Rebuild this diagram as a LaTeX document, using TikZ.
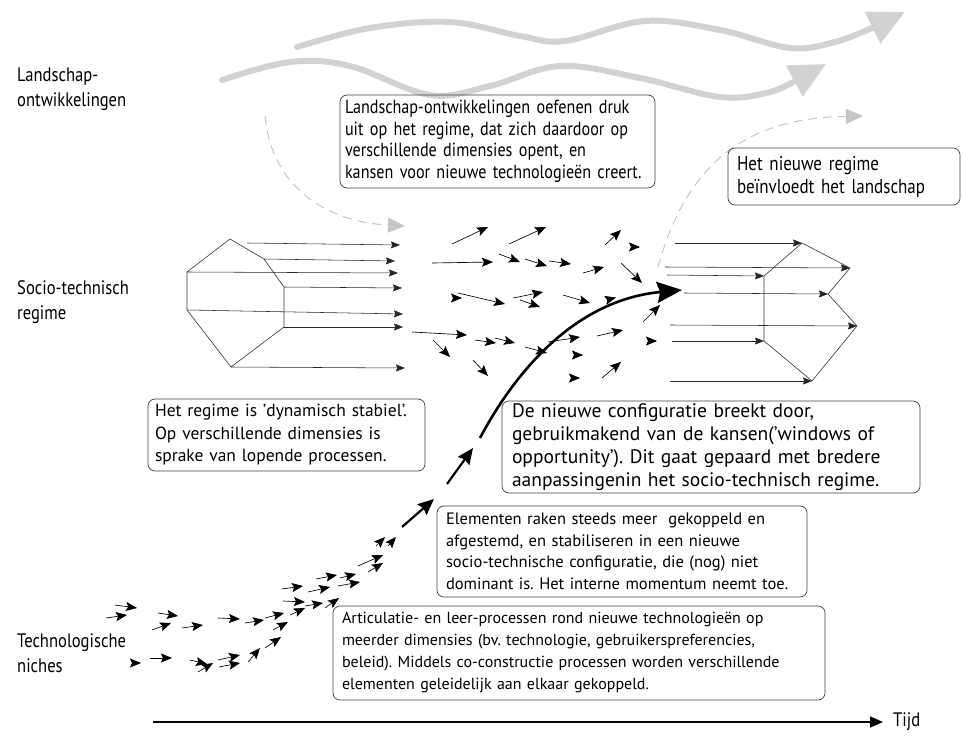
\documentclass[tikz,border=0pt]{standalone}
\usepackage{fontspec}
\setmainfont{PT Sans}
\newfontfamily\cf{PT Sans}[FakeStretch=0.85]
\usetikzlibrary{arrows.meta}
\frenchspacing
\begin{document}
\begin{tikzpicture}[x=1pt,y=-1pt,
  txtbox/.style={draw=black!75, line width=0.7pt, rounded corners=7pt, inner sep=0pt, align=left},
  lbl/.style={inner sep=0pt, align=left, anchor=north west, font=\cf\fontsize{19.5}{25}\selectfont},
  sarr/.style={line width=0.65pt, -{Stealth[length=11pt,width=9pt,inset=2pt]}},
  bigarr/.style={line width=2.2pt, -{Stealth[length=16pt,width=14pt,inset=2pt]}},
  regarr/.style={line width=0.55pt, black!85, -{Stealth[length=9pt,width=7pt,inset=1.2pt]}},
  poly/.style={line width=0.6pt, black!80},
  wave/.style={line width=6pt, gray!35, line cap=round, -{Triangle[length=36pt,width=34pt]}},
  dcurve/.style={gray!45, line width=1pt, dash pattern=on 9pt off 6pt, -{Triangle[length=17pt,width=15pt]}},
  main/.style={line width=2.6pt, -{Stealth[length=25pt,width=21pt,inset=3pt]}}
]
\useasboundingbox (0,0) rectangle (963,738);

% level labels
\node[lbl] (land) at (17,68) {Landschap-\\ontwikkelingen};
\node[lbl] (regl) at (17,280) {Socio-technisch\\regime};
\node[lbl] (nich) at (17,633) {Technologische\\niches};

% landscape waves
\draw[wave] plot[smooth, tension=0.6] coordinates {(297,47) (370,28) (450,22) (520,36) (565,41) (645,21) (720,30) (790,48) (835,42) (872,28)} -- (905,12);
\draw[wave] plot[smooth, tension=0.6] coordinates {(222,80) (290,62) (350,66) (430,95) (490,86) (560,66) (640,78) (720,97) (770,92) (800,78)} -- (826,64);

% dashed influence curves
\coordinate (dl0) at (265,116);
\coordinate (dl1) at (405,226);
\draw[dcurve] (dl0) .. controls (272,190) and (330,222) .. (dl1);
\coordinate (dr0) at (658,267);
\coordinate (dr1) at (863,116);
\draw[dcurve] (dr0) .. controls (690,150) and (760,118) .. (dr1);

% text boxes
\node[txtbox, minimum width=315, minimum height=93, text width=305, font=\cf\fontsize{19}{21.5}\selectfont] (b1) at (497.5,141.5)
 {Landschap-ontwikkelingen oefenen druk\\uit op het regime, dat zich daardoor op\\verschillende dimensies opent, en\\kansen voor nieuwe technologieën creert.};
\node[txtbox, minimum width=232, minimum height=57, text width=214, font=\cf\fontsize{20}{23}\selectfont] (b2) at (844,176.5)
 {Het nieuwe regime\\beïnvloedt het landschap};
\node[txtbox, minimum width=277, minimum height=72, text width=263, font=\fontsize{17.5}{22.5}\selectfont] (b3) at (286.5,435)
 {Het regime is 'dynamisch stabiel'.\\Op verschillende dimensies is\\sprake van lopende processen.};
\node[txtbox, minimum width=418, minimum height=92, text width=398, font=\fontsize{19.5}{23}\selectfont] (b4) at (711,447)
 {De nieuwe configuratie breekt door,\\gebruikmakend van de kansen('windows of\\opportunity'). Dit gaat gepaard met bredere\\aanpassingenin het socio-technisch regime.};
\node[txtbox, minimum width=370, minimum height=91, text width=352, font=\fontsize{16.5}{21.5}\selectfont] (b5) at (622,551.5)
 {Elementen raken steeds meer\ \ gekoppeld en\\afgestemd, en stabiliseren in een nieuwe\\socio-technische configuratie, die (nog) niet\\dominant is. Het interne momentum neemt toe.};
\node[txtbox, minimum width=492, minimum height=94, text width=474, font=\fontsize{16}{22}\selectfont] (b6) at (579,653)
 {Articulatie- en leer-processen rond nieuwe technologieën op\\meerder dimensies (bv. technologie, gebruikerspreferencies,\\beleid). Middels co-constructie processen worden verschillende\\elementen geleidelijk aan elkaar gekoppeld.};

% old regime polygon
\coordinate (LA) at (230,239); \coordinate (LG) at (264,259); \coordinate (LF) at (284,287);
\coordinate (LE) at (284,327); \coordinate (LD) at (231,367); \coordinate (LC) at (187,310);
\coordinate (LB) at (187,272);
\draw[poly] (LA) -- (LG) -- (LF) -- (LE) -- (LD) -- (LC) -- (LB) -- cycle;
\coordinate (LA1) at (247,243);
\draw[regarr] (LA1) -- (400,245);
\draw[regarr] (LG) -- (395,261);
\draw[regarr] (LB) -- (398,273);
\draw[regarr] (LF) -- (402,288);
\draw[regarr] (LC) -- (403,314);
\draw[regarr] (LE) -- (403,327);
\draw[regarr] (LD) -- (405,368);

% new regime polygon
\coordinate (P1) at (802,243); \coordinate (P2) at (850,268); \coordinate (P3) at (828,294);
\coordinate (P4) at (857,326); \coordinate (P5) at (812,381); \coordinate (P6) at (764,341);
\coordinate (P7) at (764,276);
\draw[poly] (P7) -- (P1) -- (P2) -- (P3) -- (P4) -- (P5) -- (P6) -- cycle;
\draw[regarr] (675,243) -- (P1);
\draw[regarr] (665,267) -- (P2);
\draw[regarr] (667,275) -- (P7);
\draw[regarr] (684,293) -- (P3);
\draw[regarr] (670,325) -- (P4);
\draw[regarr] (672,341) -- (P6);
\draw[regarr] (670,381) -- (P5);

% scattered regime arrows
\foreach \ax/\ay/\bx/\by in {452/244/488/227, 509/244/546/227, 605/245/621/230, 432/263/493/262,
  499/254/520/262, 525/259/547/266, 549/261/571/264, 583/273/604/267, 621/263/642/283,
  458/293/505/304, 513/298/543/292, 520/300/540/307, 563/295/590/303, 643/322/660/305,
  412/332/467/335, 475/340/496/343, 495/338/515/343, 525/347/547/353, 548/342/580/337,
  597/336/623/330, 433/340/450/357, 473/360/488/376, 602/378/621/362}
  \draw[sarr] (\ax,\ay) -- (\bx,\by);
\foreach \bx/\by in {640/247, 462/298, 657/341, 583/355, 580/378}
  \draw[sarr] (\bx-1,\by) -- (\bx,\by);
\draw[sarr] (613,298.3) -- (616,297.5);

% main breakthrough curve
\coordinate (m0) at (480,438);
\coordinate (m1) at (682,290);
\draw[main] (m0) .. controls (515,372) and (575,300) .. (m1);

% niche arrows
\foreach \ax/\ay/\bx/\by in {115/605/137/608, 106/618/127/615, 158/613/178/616, 152/630/171/623,
  182/628/203/625, 218/618/240/619, 245/623/264/620, 265/618/284/613, 273/630/288/622,
  282/589/303/586, 283/601/305/602, 290/615/305/608, 308/592/330/587, 305/606/323/603,
  316/579/337/575, 325/608/339/598, 338/586/360/582, 340/578/356/574, 358/566/383/555,
  368/572/383/563, 376/546/385/537, 388/546/396/537, 150/658/172/658, 190/660/207/664,
  198/672/213/663, 218/660/240/655, 219/667/240/663, 248/662/260/648, 265/648/281/637}
  \draw[sarr] (\ax,\ay) -- (\bx,\by);
\draw[sarr] (139,663) -- (141,663);
\draw[bigarr] (402,527) -- (434,499);
\draw[bigarr] (447,484) -- (473,448);

% time axis
\coordinate (t0) at (153,722);
\node[inner sep=0pt, anchor=west, font=\cf\fontsize{19.5}{22}\selectfont] (tijd) at (893,722) {Tijd};
\draw[line width=1.4pt, -{Triangle[length=13pt,width=11pt]}] (t0) -- ([xshift=-10pt]tijd.west);
\end{tikzpicture}
\end{document}
